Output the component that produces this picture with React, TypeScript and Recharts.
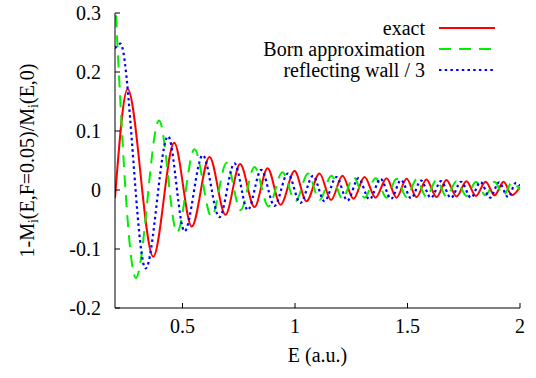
import React from 'react';
import { LineChart, Line, XAxis, YAxis, Legend, Label } from 'recharts';

const xTicks = [0.5, 1, 1.5, 2];
const xTickLabels = ['0.5', '1', '1.5', '2'];
const yTicks = [-0.2, -0.1, 0, 0.1, 0.2, 0.3];
const yTickLabels = ['-0.2', '-0.1', '0', '0.1', '0.2', '0.3'];

const exactE = [0.2, 0.256, 0.370, 0.463, 0.541, 0.620, 0.691, 0.756, 0.820, 0.878, 0.936, 0.998, 1.051, 1.109, 1.160, 1.211, 1.260, 1.309, 1.358, 1.407, 1.451, 1.496, 1.540, 1.584, 1.629, 1.673, 1.718, 1.762, 1.804, 1.847, 1.887, 1.927, 1.964, 2.0];
const exactV = [-0.014, 0.171, -0.113, 0.080, -0.062, 0.056, -0.042, 0.044, -0.029, 0.037, -0.025, 0.032, -0.019, 0.028, -0.017, 0.024, -0.015, 0.022, -0.013, 0.020, -0.013, 0.019, -0.012, 0.018, -0.012, 0.017, -0.011, 0.015, -0.010, 0.014, -0.009, 0.014, -0.009, 0.005];

const bornE = [0.2, 0.293, 0.396, 0.476, 0.553, 0.629, 0.696, 0.758, 0.820, 0.882, 0.944, 1.002, 1.058, 1.109, 1.162, 1.211, 1.260, 1.309, 1.358, 1.407, 1.451, 1.496, 1.540, 1.584, 1.629, 1.673, 1.718, 1.762, 1.804, 1.847, 1.887, 1.927, 1.964, 2.0];
const bornV = [0.33, -0.149, 0.118, -0.072, 0.069, -0.045, 0.046, -0.034, 0.039, -0.028, 0.030, -0.019, 0.028, -0.017, 0.024, -0.015, 0.022, -0.013, 0.020, -0.013, 0.019, -0.012, 0.018, -0.012, 0.017, -0.011, 0.015, -0.010, 0.014, -0.009, 0.014, -0.009, 0.013, 0.0];

const wallE = [0.2, 0.224, 0.336, 0.436, 0.509, 0.590, 0.664, 0.731, 0.790, 0.850, 0.909, 0.968, 1.024, 1.080, 1.131, 1.184, 1.233, 1.282, 1.331, 1.380, 1.427, 1.471, 1.516, 1.560, 1.604, 1.649, 1.693, 1.738, 1.782, 1.824, 1.867, 1.907, 1.947, 1.982, 2.0];
const wallV = [0.24, 0.248, -0.133, 0.091, -0.070, 0.059, -0.046, 0.045, -0.034, 0.034, -0.027, 0.028, -0.022, 0.024, -0.019, 0.022, -0.018, 0.020, -0.016, 0.019, -0.015, 0.017, -0.014, 0.016, -0.0135, 0.015, -0.0135, 0.014, -0.013, 0.0135, -0.013, 0.013, -0.012, 0.012, 0.007];

const seriesNames = ['exact', 'Born approximation', 'reflecting wall / 3'];

const toRows = (es: number[], vs: number[]) => es.map((E, i) => ({ E, v: vs[i] }));

const exactData = toRows(exactE, exactV);
const bornData = toRows(bornE, bornV);
const wallData = toRows(wallE, wallV);

const FONT = '"Liberation Serif", "Times New Roman", Times, serif';
const FS = 20;
const TICK_LEN = 5;

const series = [
  { name: seriesNames[0], data: exactData, color: '#ff0000', dash: undefined as string | undefined, width: 2 },
  { name: seriesNames[1], data: bornData, color: '#00ee00', dash: '12 8', width: 2 },
  { name: seriesNames[2], data: wallData, color: '#0000ff', dash: '2.5 3.2', width: 2.2 },
];

const BottomTick = (props: any) => {
  const { x, y, payload } = props;
  const i = xTicks.indexOf(payload.value);
  return (
    <g>
      <line x1={x} x2={x} y1={y} y2={y - TICK_LEN} stroke="#000" strokeWidth={1} />
      <text x={x} y={y + 25} textAnchor="middle" fontFamily={FONT} fontSize={FS} fill="#000">
        {xTickLabels[i]}
      </text>
    </g>
  );
};

const TopTick = (props: any) => {
  const { x, y } = props;
  return <line x1={x} x2={x} y1={y} y2={y + TICK_LEN} stroke="#000" strokeWidth={1} />;
};

const LeftTick = (props: any) => {
  const { x, y, payload } = props;
  const i = yTicks.findIndex((t) => Math.abs(t - payload.value) < 1e-9);
  return (
    <g>
      <line x1={x} x2={x + TICK_LEN} y1={y} y2={y} stroke="#000" strokeWidth={1} />
      <text x={x - 14} y={y + 7} textAnchor="end" fontFamily={FONT} fontSize={FS} fill="#000">
        {yTickLabels[i]}
      </text>
    </g>
  );
};

const RightTick = (props: any) => {
  const { x, y } = props;
  return <line x1={x} x2={x - TICK_LEN} y1={y} y2={y} stroke="#000" strokeWidth={1} />;
};

const YTitle = (props: any) => {
  const vb = props.viewBox;
  const cx = vb.x + 34;
  const cy = vb.y + vb.height / 2;
  return (
    <text x={cx} y={cy} transform={`rotate(-90 ${cx} ${cy})`} textAnchor="middle" fontFamily={FONT} fontSize={FS} fill="#000">
      1-M<tspan dy={4} fontSize={14}>i</tspan>
      <tspan dy={-4}>(E,F=0.05)/M</tspan>
      <tspan dy={4} fontSize={14}>i</tspan>
      <tspan dy={-4}>(E,0)</tspan>
    </text>
  );
};

const XTitle = (props: any) => {
  const vb = props.viewBox;
  return (
    <text x={vb.x + vb.width / 2} y={vb.y + 54} textAnchor="middle" fontFamily={FONT} fontSize={FS} fill="#000">
      E (a.u.)
    </text>
  );
};

const LegendContent = () => (
  <div style={{ position: 'relative', width: 536, height: 0 }}>
    {series.map((s, i) => {
      const cy = 28.5 + i * 21;
      return (
        <React.Fragment key={s.name}>
          <span
            style={{
              position: 'absolute',
              right: 536 - 425,
              top: cy - 11,
              fontFamily: FONT,
              fontSize: FS,
              lineHeight: '20px',
              whiteSpace: 'nowrap',
              color: '#000',
            }}
          >
            {s.name}
          </span>
          <svg style={{ position: 'absolute', left: 439, top: cy - 10 }} width={57} height={20}>
            <line x1={0} x2={56} y1={9} y2={9} stroke={s.color} strokeWidth={s.width} strokeDasharray={s.dash} />
          </svg>
        </React.Fragment>
      );
    })}
  </div>
);

export default function App() {
  return (
    <div style={{ position: 'absolute', left: 0, top: 0, background: '#fff' }}>
      <LineChart width={536} height={378} margin={{ top: 13, right: 16, bottom: 20, left: 0 }}>
        <XAxis
          xAxisId="b"
          type="number"
          dataKey="E"
          domain={[0.2, 2]}
          ticks={xTicks}
          interval={0}
          allowDataOverflow
          height={50}
          tickSize={0}
          tickMargin={0}
          tickLine={false}
          tick={<BottomTick />}
          axisLine={{ stroke: '#000', strokeWidth: 1 }}
        >
          <Label content={<XTitle />} />
        </XAxis>
        <XAxis
          xAxisId="t"
          orientation="top"
          type="number"
          dataKey="E"
          domain={[0.2, 2]}
          ticks={xTicks}
          interval={0}
          allowDataOverflow
          height={0}
          tickSize={0}
          tickMargin={0}
          tickLine={false}
          tick={<TopTick />}
          axisLine={{ stroke: '#000', strokeWidth: 1 }}
        />
        <YAxis
          yAxisId="l"
          type="number"
          domain={[-0.2, 0.3]}
          ticks={yTicks}
          interval={0}
          allowDataOverflow
          width={115}
          tickSize={0}
          tickMargin={0}
          tickLine={false}
          tick={<LeftTick />}
          axisLine={{ stroke: '#000', strokeWidth: 1 }}
        >
          <Label content={<YTitle />} />
        </YAxis>
        <YAxis
          yAxisId="r"
          orientation="right"
          type="number"
          domain={[-0.2, 0.3]}
          ticks={yTicks}
          interval={0}
          allowDataOverflow
          width={0}
          tickSize={0}
          tickMargin={0}
          tickLine={false}
          tick={<RightTick />}
          axisLine={{ stroke: '#000', strokeWidth: 1 }}
        />
        <Legend
          layout="vertical"
          align="center"
          verticalAlign="middle"
          wrapperStyle={{ left: 0, top: 0, width: 536, height: 0 }}
          content={<LegendContent />}
        />
        {series.map((s) => (
          <Line
            key={s.name}
            name={s.name}
            xAxisId="b"
            yAxisId="l"
            data={s.data}
            dataKey="v"
            type="monotone"
            stroke={s.color}
            strokeWidth={s.width}
            strokeDasharray={s.dash}
            dot={false}
            activeDot={false}
            isAnimationActive={false}
          />
        ))}
      </LineChart>
    </div>
  );
}
